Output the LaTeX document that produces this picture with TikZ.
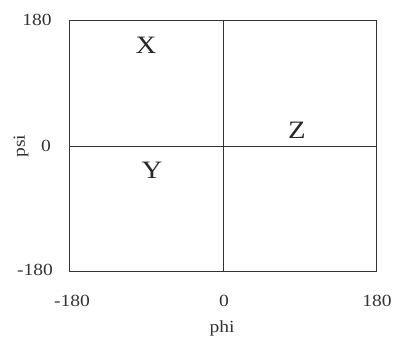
\documentclass[tikz,border=0pt]{standalone}
\usepackage{fontspec}
\setmainfont{Liberation Serif}
\newfontfamily\widefont[FakeStretch=1.15]{Liberation Serif}
\begin{document}
\begin{tikzpicture}[x=1pt,y=-1pt,
  frame/.style={draw=black!80,line width=1pt},
  tick/.style={font=\widefont\fontsize{17}{17}\selectfont,text=black!80,inner sep=0pt},
  region/.style={font=\widefont\fontsize{25}{25}\selectfont,text=black!85,inner sep=0pt}]
\useasboundingbox (0,0) rectangle (395,341);
\coordinate (bl) at (69,271);
\coordinate (tr) at (376,20);
\coordinate (mt) at (223,20);
\coordinate (mb) at (223,271);
\coordinate (ml) at (69,146);
\coordinate (mr) at (376,146);
\draw[frame] (bl) rectangle (tr);
\draw[frame] (mt) -- (mb);
\draw[frame] (ml) -- (mr);
\node[tick] (y180) at (37,20) {180};
\node[tick] (y0) at (46,146) {0};
\node[tick] (ym180) at (35,270) {-180};
\node[tick,rotate=90] (psi) at (21,146) {psi};
\node[tick] (xm180) at (72,301) {-180};
\node[tick] (x0) at (224,301) {0};
\node[tick] (x180) at (377,301) {180};
\node[tick] (phi) at (222,328) {phi};
\node[region] (X) at (146,45) {X};
\node[region] (Y) at (152,170) {Y};
\node[region] (Z) at (297,130) {Z};
\end{tikzpicture}
\end{document}
